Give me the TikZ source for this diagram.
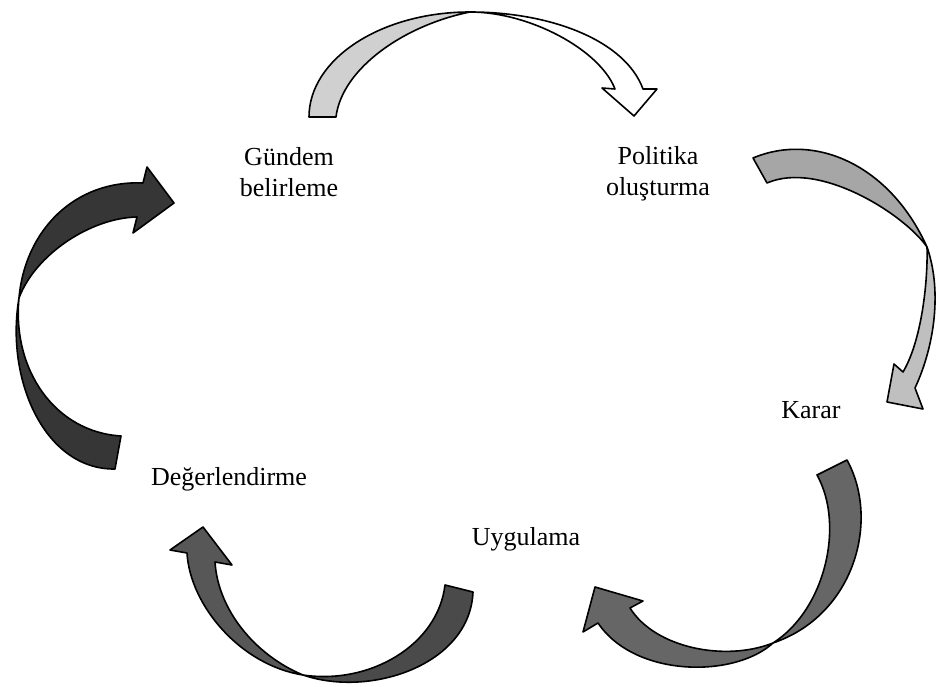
\documentclass[tikz,border=0pt]{standalone}
\usepackage{fontspec}
\setmainfont{Liberation Serif}
\definecolor{cDark}{HTML}{363636}
\definecolor{cBLback}{HTML}{4A4A4A}
\definecolor{cBLfront}{HTML}{575757}
\definecolor{cBR}{HTML}{666666}
\definecolor{cRback}{HTML}{A6A6A6}
\definecolor{cRfront}{HTML}{BFBFBF}
\definecolor{cTop}{HTML}{D0D0D0}
\begin{document}
\begin{tikzpicture}[x=1pt,y=-1pt,
  lbl/.style={inner sep=0pt, align=center, font=\fontsize{26}{31}\selectfont},
  arrowpart/.style={draw=black, line width=1.6pt, line join=round}]
\useasboundingbox (0,0) rectangle (938,687);

% labels
\node[lbl] (gundem) at (289,172) {Gündem\\belirleme};
\node[lbl] (politika) at (658,174) {Politika\\oluşturma};
\node[lbl] (karar) at (811,410) {Karar};
\node[lbl] (uygulama) at (526,539) {Uygulama};
\node[lbl] (deger) at (229,479) {Değerlendirme};

% top arrow: Gündem -> Politika
\path[arrowpart, fill=cTop]
  (309,117) .. controls (309,59) and (381,12) .. (470,12)
  .. controls (405,25) and (342,68) .. (336,117) -- cycle;
\path[arrowpart, fill=white]
  (470,12) .. controls (550,12) and (625,40) .. (643,89)
  -- (657,89) -- (634,116) -- (602,88) -- (615,89)
  .. controls (600,50) and (530,12) .. (470,12) -- cycle;

% right arrow: Politika -> Karar
\path[arrowpart, fill=cRback]
  (753,158) .. controls (815,132) and (890,165) .. (927,247)
  .. controls (905,215) and (820,160) .. (767,183) -- cycle;
\path[arrowpart, fill=cRfront]
  (927,247) .. controls (942,290) and (935,345) .. (915,388)
  -- (923,409) -- (887,402) -- (894,364) -- (903,372)
  .. controls (922,340) and (928,280) .. (927,247) -- cycle;

% bottom-right arrow: Karar -> Uygulama
\path[arrowpart, fill=cBR]
  (817,475) .. controls (845,525) and (825,610) .. (773,643)
  .. controls (855,615) and (880,520) .. (847,460) -- cycle;
\path[arrowpart, fill=cBR]
  (773,643) .. controls (735,678) and (635,678) .. (598,623)
  -- (583,632) -- (595,587) -- (643,601) -- (630,608)
  .. controls (655,648) and (725,662) .. (773,643) -- cycle;

% bottom-left arrow: Uygulama -> Değerlendirme
\path[arrowpart, fill=cBLback]
  (445,585) .. controls (438,645) and (370,685) .. (303,675)
  .. controls (370,698) and (470,665) .. (473,592) -- cycle;
\path[arrowpart, fill=cBLfront]
  (303,675) .. controls (240,665) and (190,605) .. (187,553)
  -- (170,550) -- (203,527) -- (232,565) -- (215,562)
  .. controls (218,610) and (255,655) .. (303,675) -- cycle;

% left arrow: Değerlendirme -> Gündem
\path[arrowpart, fill=cDark]
  (121,436) .. controls (55,432) and (12,370) .. (19,298)
  .. controls (5,380) and (45,470) .. (115,469) -- cycle;
\path[arrowpart, fill=cDark]
  (19,298) .. controls (25,230) and (75,180) .. (143,183)
  -- (147,167) -- (174,203) -- (133,233) -- (137,217)
  .. controls (90,218) and (35,255) .. (19,298) -- cycle;
\end{tikzpicture}
\end{document}
